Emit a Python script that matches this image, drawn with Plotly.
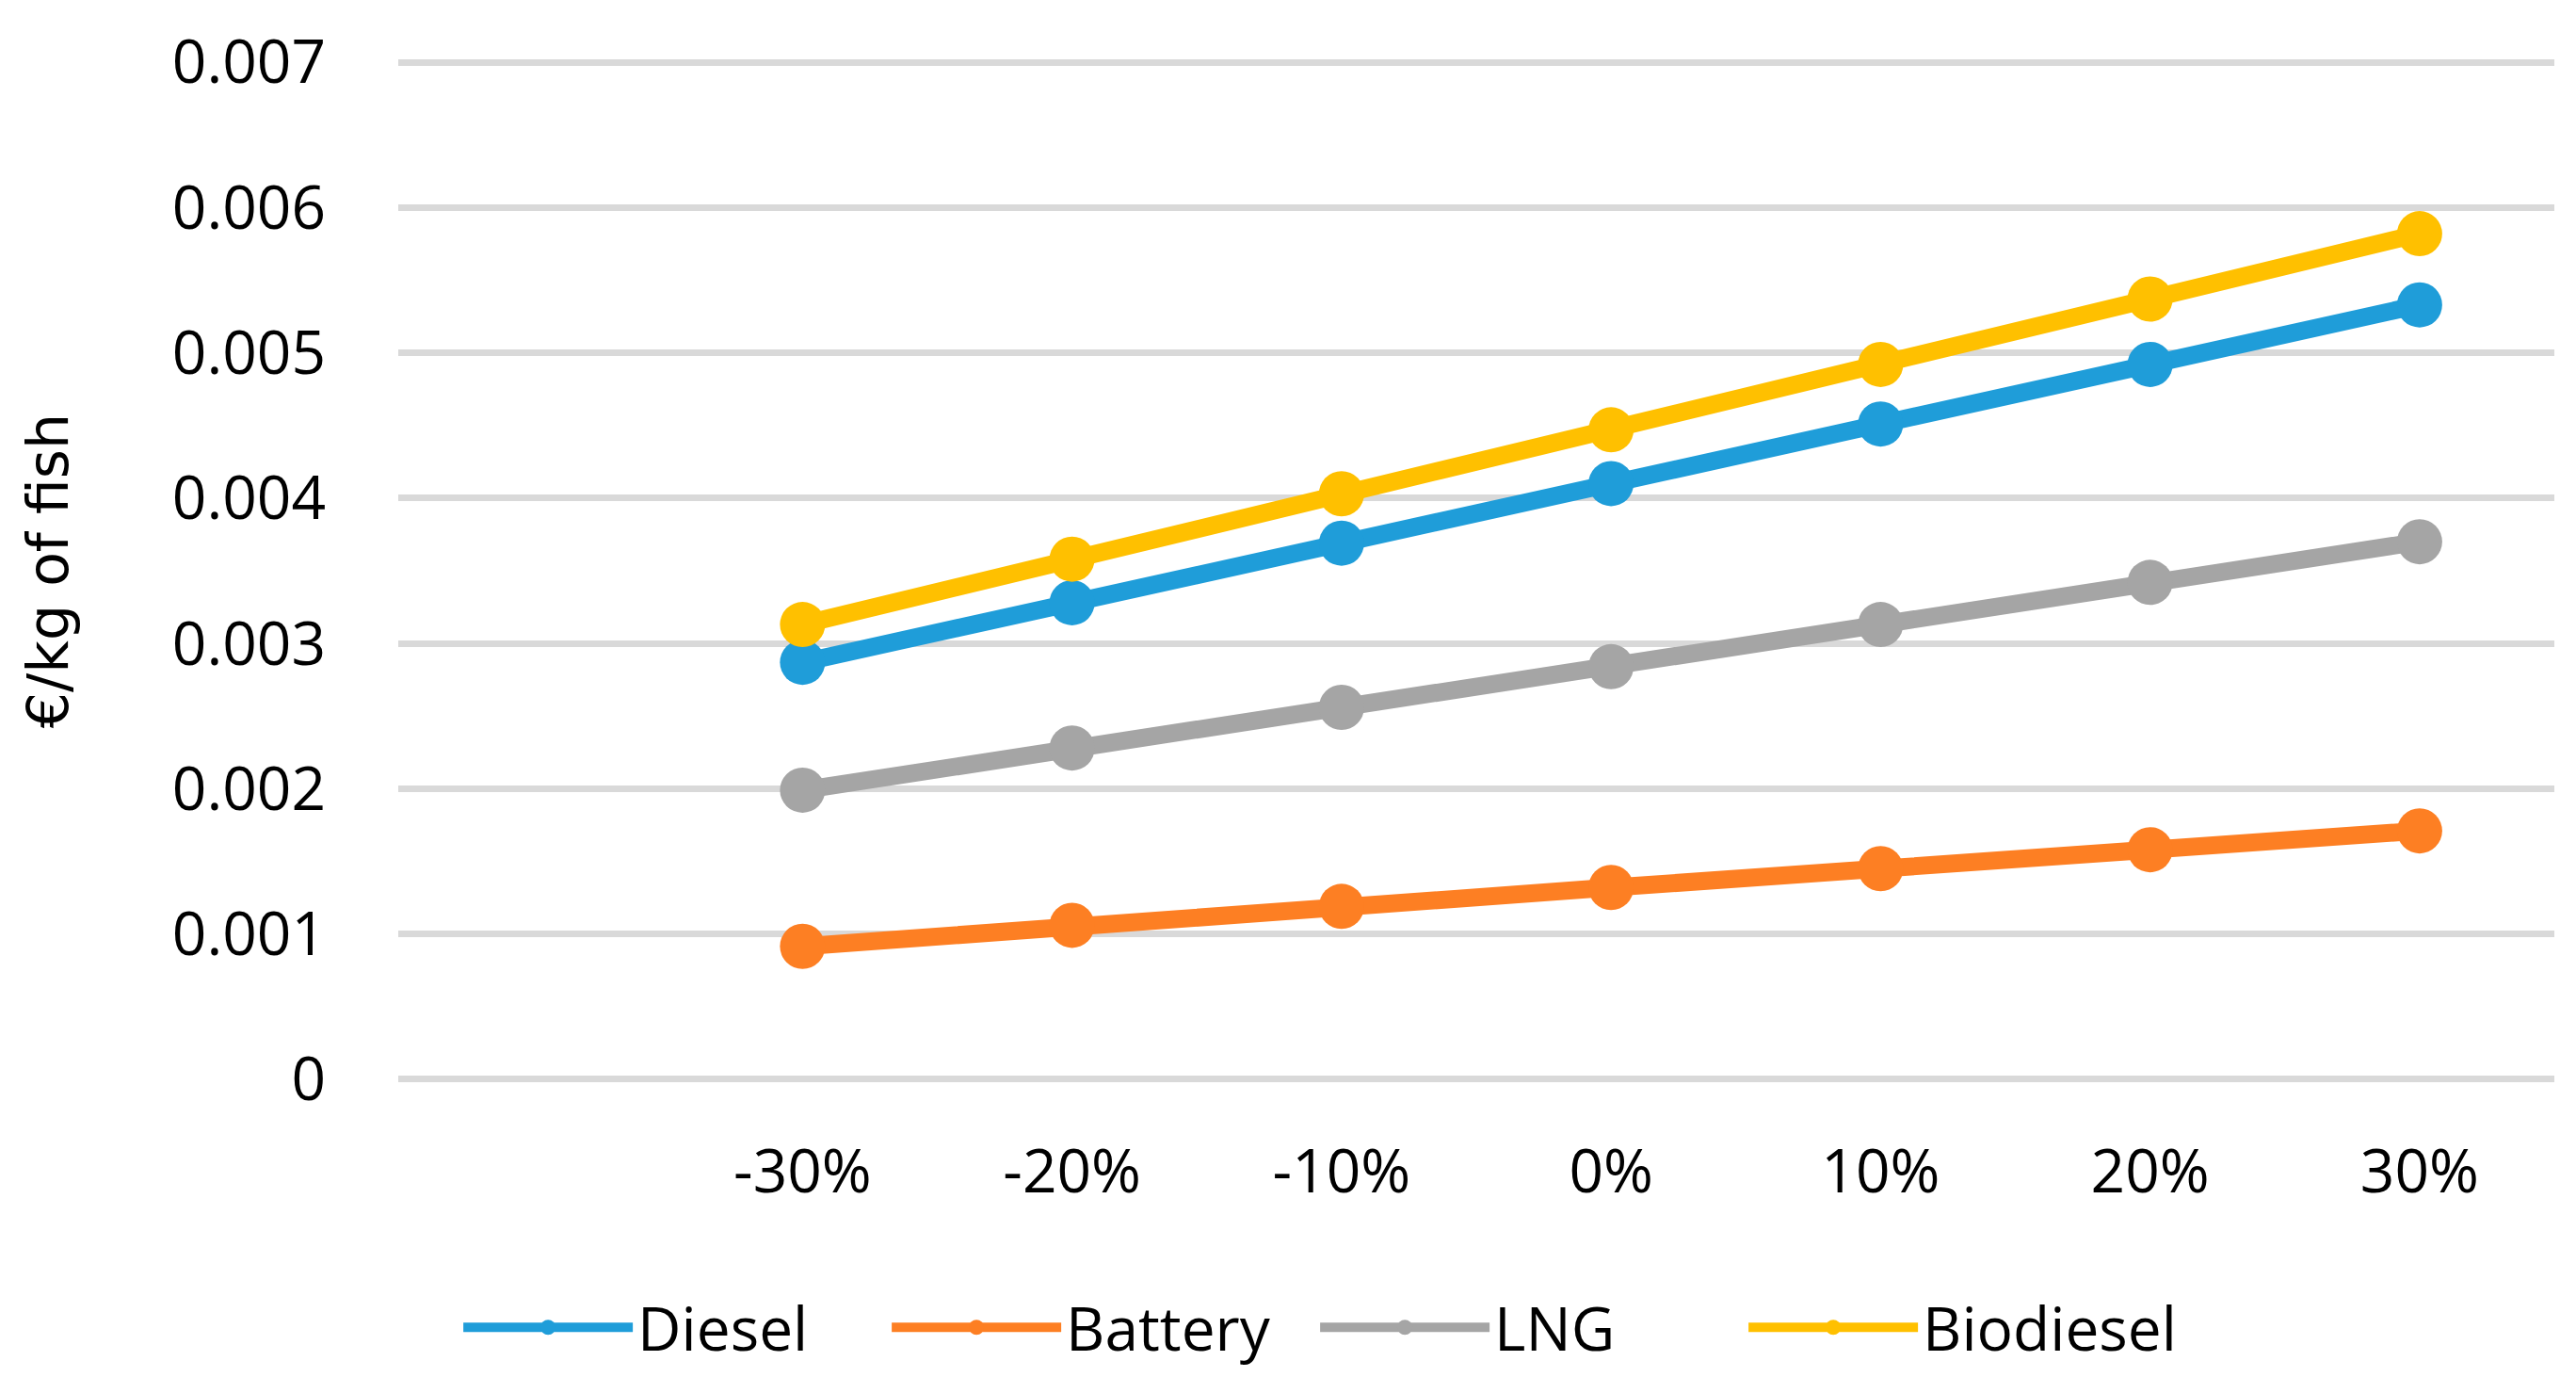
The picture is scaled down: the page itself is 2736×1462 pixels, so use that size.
import plotly.graph_objects as go

categories = ["-30%", "-20%", "-10%", "0%", "10%", "20%", "30%"]
diesel = [0.00287, 0.00328, 0.00369, 0.00410, 0.00451, 0.00492, 0.00533]
battery = [0.000915, 0.00106, 0.00119, 0.00132, 0.00145, 0.00158, 0.00171]
lng = [0.00199, 0.00228, 0.00256, 0.00284, 0.00313, 0.00342, 0.00370]
biodiesel = [0.00313, 0.00358, 0.00403, 0.00447, 0.00492, 0.00537, 0.00582]
y_ticks = [0, 0.001, 0.002, 0.003, 0.004, 0.005, 0.006, 0.007]
y_ticklabels = ["0", "0.001", "0.002", "0.003", "0.004", "0.005", "0.006", "0.007"]

series = [
    ("Diesel", diesel, "#1F9DD9"),
    ("Battery", battery, "#FD7F23"),
    ("LNG", lng, "#A5A5A5"),
    ("Biodiesel", biodiesel, "#FFC000"),
]

fig = go.Figure()
for name, vals, color in series:
    fig.add_trace(go.Scatter(
        x=categories, y=vals, name=name, mode="lines+markers",
        line=dict(color=color, width=19),
        marker=dict(color=color, size=48),
    ))

tick_font = dict(family="Open Sans", size=64, color="#000000")

fig.update_layout(
    width=2736, height=1462,
    paper_bgcolor="white", plot_bgcolor="white",
    margin=dict(l=415, r=31, t=49, b=312),
    font=tick_font,
    showlegend=True,
    legend=dict(
        orientation="h", x=0.028, xanchor="left", y=-0.24, yanchor="middle",
        font=dict(family="Open Sans", size=64, color="#000000"),
        itemwidth=180, traceorder="normal",
        entrywidth=260, entrywidthmode="pixels",
    ),
)
fig.update_xaxes(
    type="category", categoryorder="array", categoryarray=categories,
    range=[-1.5, 6.5], showgrid=False, zeroline=False, showline=False,
    ticks="", ticklabelstandoff=52, tickfont=tick_font,
)
fig.update_yaxes(
    range=[-0.00002, 0.00702], tickvals=y_ticks, ticktext=y_ticklabels,
    showgrid=True, gridcolor="#D9D9D9", gridwidth=7,
    zeroline=False, showline=False, ticks="", ticklabelstandoff=76,
    tickfont=tick_font,
    title=dict(text="€/kg of fish", font=dict(family="DejaVu Sans", size=60, color="#000000"), standoff=90),
)

fig.write_html("out.html")
